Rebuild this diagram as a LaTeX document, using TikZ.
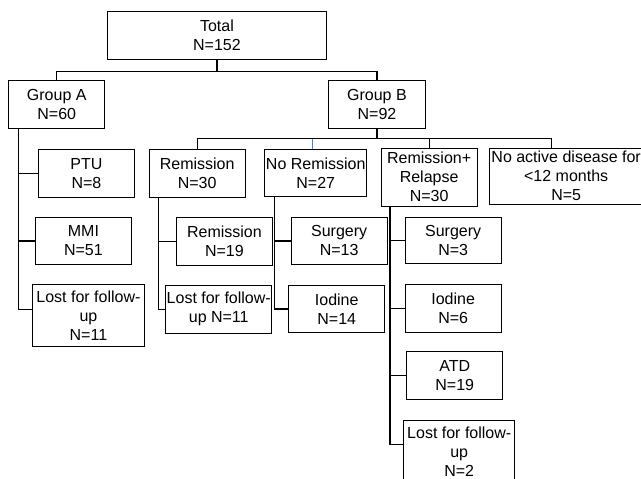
\documentclass[tikz,border=0pt]{standalone}
\usepackage{fontspec}
\setmainfont{Liberation Sans}
\usepackage{tikz}
\usetikzlibrary{positioning}

\definecolor{stemblue}{RGB}{79,129,189}

\begin{document}
\begin{tikzpicture}[x=1pt,y=-1pt,
  box/.style={draw, line width=0.9pt, align=center, inner sep=0pt, anchor=north west,
    font=\fontsize{16}{19}\selectfont},
  link/.style={line width=1.1pt}]
\clip (0,0) rectangle (641,479);

% top levels
\node[box, minimum width=219pt, minimum height=48pt] (total) at (107,11) {Total\\N=152};
\node[box, minimum width=96pt, minimum height=48pt] (groupA) at (8.3,80) {Group A\\N=60};
\node[box, minimum width=97pt, minimum height=48pt] (groupB) at (328,80) {Group B\\N=92};

% group A
\node[box, minimum width=96pt, minimum height=48pt] (ptu) at (38,149) {PTU\\N=8};
\node[box, minimum width=96pt, minimum height=47pt] (mmi) at (35,217) {MMI\\N=51};
\node[box, minimum width=112pt, minimum height=62pt] (lostA) at (32,284) {Lost for follow-\\up\\N=11};

% group B
\node[box, minimum width=96pt, minimum height=48pt] (rem) at (148.7,148.7) {Remission\\N=30};
\node[box, minimum width=102pt, minimum height=47pt] (norem) at (264.3,149) {No Remission\\N=27};
\node[box, minimum width=96pt, minimum height=58pt] (remrel) at (380.7,147.7) {Remission+\\Relapse\\N=30};
\node[box, minimum width=154pt, minimum height=56pt] (noact) at (488.7,147.7) {No active disease for\\<12 months\\N=5};

% under remission
\node[box, minimum width=96pt, minimum height=48pt] (remsub) at (176,216.7) {Remission\\N=19};
\node[box, minimum width=106pt, minimum height=48pt] (lostR) at (165.3,284.7) {Lost for follow-\\up N=11};

% under no remission
\node[box, minimum width=96pt, minimum height=47pt] (surgN) at (290.7,217) {Surgery\\N=13};
\node[box, minimum width=96pt, minimum height=47pt] (iodN) at (288.3,285) {Iodine\\N=14};

% under remission+relapse
\node[box, minimum width=96pt, minimum height=46pt] (surgRR) at (404.7,217) {Surgery\\N=3};
\node[box, minimum width=96pt, minimum height=48pt] (iodRR) at (404.7,284.3) {Iodine\\N=6};
\node[box, minimum width=96pt, minimum height=48pt] (atd) at (406.3,351) {ATD\\N=19};
\node[box, minimum width=111pt, minimum height=62pt] (lostRR) at (403.3,420) {Lost for follow-\\up\\N=2};

% buses
\draw[link] (total.south) -- +(0,11.7) coordinate (busT);
\draw[link] (groupA.north) |- (busT) -| (groupB.north);
\draw[link] (groupB.south) -- +(0,10) coordinate (busB);
\draw[link] (rem.north) |- (busB) -| ([xshift=-15pt]noact.north);
\draw[link] (remrel.north) -- (remrel.north |- busB);
\draw[link, stemblue] ([xshift=-3pt]norem.north) -- ([xshift=-3pt]norem.north |- busB);

% trunks
\coordinate (trA) at ([xshift=10pt]groupA.south west);
\draw[link] (trA) |- ([yshift=6pt]lostA.west);
\draw[link] (ptu.west) -- (ptu.west -| trA);
\draw[link] (mmi.west) -- (mmi.west -| trA);

\coordinate (trR) at ([xshift=9.6pt]rem.south west);
\draw[link] (trR) |- (lostR.west);
\draw[link] (remsub.west) -- (remsub.west -| trR);

\coordinate (trN) at ([xshift=10pt]norem.south west);
\draw[link] (trN) |- (iodN.west);
\draw[link] (surgN.west) -- (surgN.west -| trN);

\coordinate (trRR) at ([xshift=9.3pt]remrel.south west);
\draw[link] (trRR) |- ([yshift=7pt]lostRR.west);
\draw[link] (surgRR.west) -- (surgRR.west -| trRR);
\draw[link] (iodRR.west) -- (iodRR.west -| trRR);
\draw[link] (atd.west) -- (atd.west -| trRR);
\end{tikzpicture}
\end{document}
